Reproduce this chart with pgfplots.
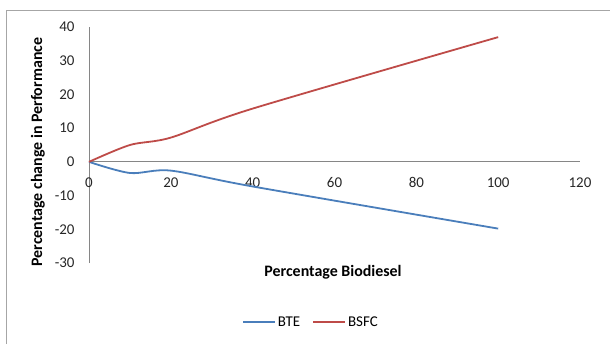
\documentclass[border=0pt]{standalone}
\usepackage{fontspec}
\setmainfont{Carlito}
\usepackage{pgfplots}
\pgfplotsset{compat=1.18}

\definecolor{btecol}{HTML}{4A7EBB}
\definecolor{bsfccol}{HTML}{BE4B48}
\definecolor{axcol}{HTML}{868686}

\begin{document}
\begin{tikzpicture}[x=1bp,y=1bp]
  % page frame
  \useasboundingbox (0,0) rectangle (610,344);
  \draw[color=black!35, line width=0.9bp] (6,0) -- (6,334) -- (610,334);
  \begin{axis}[
    at={(89bp,81bp)}, anchor=south west,
    scale only axis, width=491bp, height=236bp,
    xmin=0, xmax=120, ymin=-30, ymax=40,
    axis x line=middle, axis y line=left,
    axis line style={-, color=axcol, line width=0.8bp},
    hide obscured x ticks=false, hide obscured y ticks=false,
    xtick={0,20,...,120}, ytick={-30,-20,...,40},
    major tick length=0pt,
    /pgf/number format/assume math mode=true,
    font=\fontsize{15}{18}\selectfont,
    ticklabel style={font=\fontsize{15}{18}\selectfont, color=black!85},
    xticklabel style={yshift=-12bp},
    yticklabel style={xshift=-11bp},
    xlabel={\textbf{Percentage Biodiesel}},
    ylabel={\textbf{Percentage change in Performance}},
    xlabel style={at={(axis description cs:0.497,-0.038)}, anchor=center,
      font=\fontsize{16}{19}\selectfont},
    ylabel style={at={(axis description cs:-0.104,0.47)}, anchor=center,
      font=\fontsize{16}{19}\selectfont},
    legend columns=2,
    legend style={draw=none, at={(axis description cs:0.452,-0.25)}, anchor=center,
      font=\fontsize{15}{18}\selectfont, inner xsep=0pt,
      /tikz/every even column/.append style={column sep=10bp}},
    legend image code/.code={\draw[#1, line width=1.8bp] (0bp,0bp) -- (32bp,0bp);},
    clip=false,
  ]
    \addplot[btecol, line width=1.8bp, smooth, tension=0.5] coordinates {
      (0,0) (10,-3.3) (20,-2.6) (40,-7.3) (100,-19.8)
    };
    \addlegendentry{BTE}
    \addplot[bsfccol, line width=1.8bp, smooth, tension=0.5] coordinates {
      (0,0) (10,5) (20,7.2) (40,15.8) (100,37)
    };
    \addlegendentry{BSFC}
  \end{axis}
\end{tikzpicture}
\end{document}
